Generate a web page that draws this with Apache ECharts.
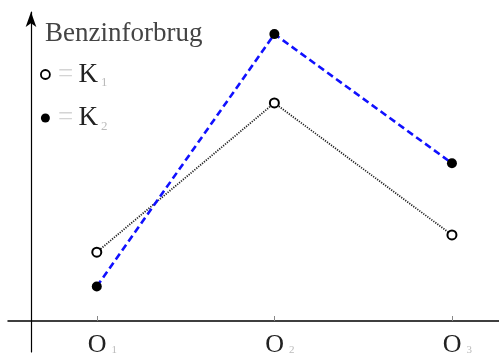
<!DOCTYPE html>
<html>
<head>
<meta charset="utf-8">
<script src="https://cdn.jsdelivr.net/npm/echarts@6/dist/echarts.min.js"></script>
<style>
  html, body { margin: 0; padding: 0; background: #fff; }
  #chart { width: 499px; height: 360px; }
</style>
</head>
<body>
<div id="chart"></div>
<script>
// Periods on the horizontal axis (O with subscript)
const periods = ['1', '2', '3'];
const periodPos = [1, 2, 3];
// Fuel consumption for the two car types
const k1Values = [2.4, 7.6, 3.0];
const k2Values = [1.2, 10.0, 5.5];
const yTitle = 'Benzinforbrug';

const pairs = (vals) => vals.map((v, i) => [periodPos[i], v]);
const serif = '"Liberation Serif", "DejaVu Serif", serif';

const chart = echarts.init(document.getElementById('chart'));
chart.setOption({
  animation: false,
  backgroundColor: '#fff',
  title: {
    text: yTitle,
    left: 40,
    top: 15,
    textStyle: { fontFamily: serif, fontSize: 27, fontWeight: 'normal', color: '#444' }
  },
  legend: {
    orient: 'vertical',
    left: 40,
    top: 61,
    padding: 0,
    itemGap: 15,
    itemWidth: 9,
    itemHeight: 9,
    selectedMode: false,
    data: [
      { name: 'K1', icon: 'circle', itemStyle: { color: '#fff', borderColor: '#000', borderWidth: 1.8 } },
      { name: 'K2', icon: 'circle', itemStyle: { color: '#000', borderWidth: 0 } }
    ],
    formatter: (name) => '{eq|=} {k|K}{sub|' + name.slice(1) + '}',
    textStyle: {
      rich: {
        eq: { fontFamily: serif, fontSize: 27, lineHeight: 30, color: '#d4d4d4', padding: [0, 2, 0, 3] },
        k: { fontFamily: serif, fontSize: 27, lineHeight: 30, color: '#222' },
        sub: { fontFamily: serif, fontSize: 13, lineHeight: 30, color: '#bbb', verticalAlign: 'bottom', padding: [14, 0, 0, 3] }
      }
    }
  },
  // grid 0 holds the data; grid 1 only carries the long vertical axis with its arrow
  grid: [
    { left: 8, right: 0, top: 12, bottom: 39, outerBoundsMode: 'none', containLabel: false },
    { left: 8, right: 0, top: 12, bottom: 8, outerBoundsMode: 'none', containLabel: false }
  ],
  xAxis: [
    {
      type: 'value',
      gridIndex: 0,
      min: 0.5,
      max: 3.265,
      axisLine: { onZero: false, lineStyle: { color: '#000', width: 1.5 } },
      axisTick: { show: true, inside: true, length: 5, customValues: periodPos, lineStyle: { color: '#888' } },
      splitLine: { show: false },
      axisLabel: {
        customValues: periodPos,
        margin: 13,
        formatter: (v) => '{o|O}{s|' + periods[periodPos.indexOf(Math.round(v))] + '}',
        rich: {
          o: { fontFamily: serif, fontSize: 26, lineHeight: 22, color: '#222', padding: [0, 0, 0, 11] },
          s: { fontFamily: serif, fontSize: 11, lineHeight: 22, color: '#bbb', verticalAlign: 'bottom', padding: [10, 0, 0, 5] }
        }
      }
    },
    { type: 'value', gridIndex: 1, min: 0, max: 1, show: false }
  ],
  yAxis: [
    {
      type: 'value',
      gridIndex: 0,
      min: 0,
      max: 10.77,
      show: false
    },
    {
      type: 'value',
      gridIndex: 1,
      min: 0,
      max: 1,
      position: 'left',
      offset: -23,
      axisLine: {
        show: true,
        onZero: false,
        symbol: ['none', 'arrow'],
        symbolSize: [8, 15],
        symbolOffset: [0, 0],
        lineStyle: { color: '#000', width: 1.2 }
      },
      axisTick: { show: false },
      axisLabel: { show: false },
      splitLine: { show: false }
    }
  ],
  series: [
    {
      name: 'K1',
      type: 'line',
      xAxisIndex: 0,
      yAxisIndex: 0,
      data: pairs(k1Values),
      symbol: 'emptyCircle',
      symbolSize: 9,
      itemStyle: { color: '#000', borderWidth: 1.8 },
      lineStyle: { color: '#222', width: 1.8, type: [1.2, 1.3] },
      z: 3
    },
    {
      name: 'K2',
      type: 'line',
      xAxisIndex: 0,
      yAxisIndex: 0,
      data: pairs(k2Values),
      symbol: 'circle',
      symbolSize: 10,
      itemStyle: { color: '#000' },
      lineStyle: { color: '#1010ff', width: 2.6, type: [7, 4] },
      z: 4
    }
  ]
});
</script>
</body>
</html>
